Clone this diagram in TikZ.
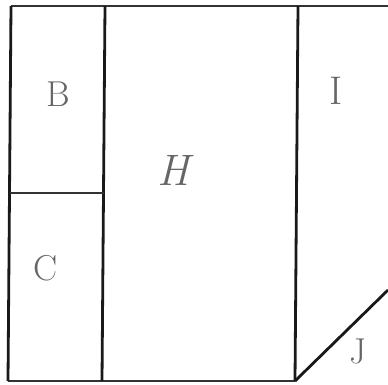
\documentclass[tikz,border=0pt]{standalone}
\usetikzlibrary{positioning}

\begin{document}
\begin{tikzpicture}[
      x=1pt, y=-1pt,
      edge/.style={line width=2.8pt, black!90},
      rim/.style={line width=2pt, black!80},
      part/.style={font=\fontsize{36}{36}\selectfont, text=black!60}]
    \useasboundingbox (0,0) rectangle (388,384);
    % outline corners and cuts
    \coordinate (tl) at (11,6);
    \coordinate (bl) at (8,381);
    \coordinate (tr) at (388,6);
    \coordinate (m1t) at (105,6);
    \coordinate (m1b) at (102,381);
    \coordinate (m2t) at (298,6);
    \coordinate (m2b) at (295,381);
    \coordinate (cl) at (10,193);
    \coordinate (cr) at (104,193);
    \coordinate (jr) at (388,290);
    \draw[rim] (tr) -- (tl);
    \draw[rim] (bl) -- (m2b);
    \draw[edge] (tl) -- (bl);
    \draw[edge] (m1t) -- (m1b);
    \draw[edge] (m2t) -- (m2b);
    \draw[rim] (cl) -- (cr);
    \draw[edge] (m2b) -- (jr);
    % part labels
    \node[part] (b) at (58,94) {B};
    \node[part] (c) at (46,268) {C};
    \node[part, font=\fontsize{44}{44}\selectfont\itshape] (h) at (173,170) {H};
    \node[part, font=\fontsize{40}{40}\selectfont] (i) at (336,91) {I};
    \node[part] (j) at (358,351) {J};
  \end{tikzpicture}
\end{document}
